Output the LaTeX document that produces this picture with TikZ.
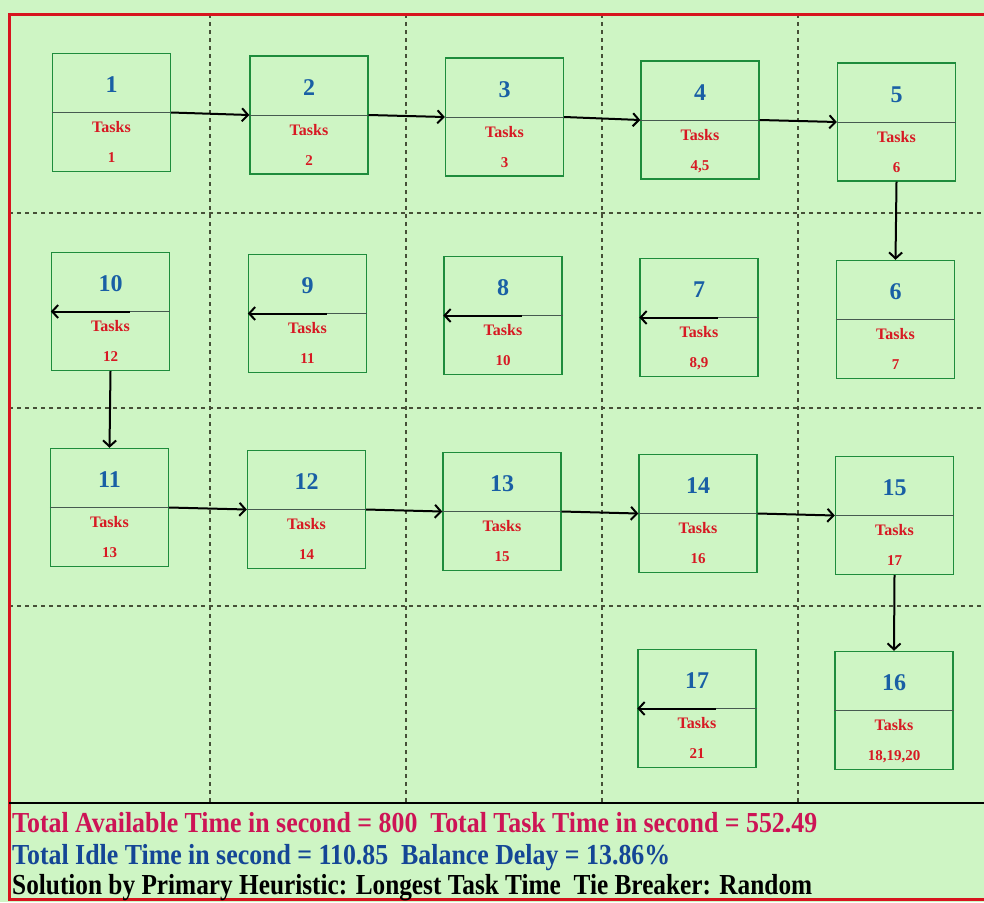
\documentclass[tikz,border=0pt]{standalone}
\usepackage{fontspec}
\setmainfont{Liberation Serif}
\usepackage{graphicx}
\usetikzlibrary{arrows.meta}
\definecolor{bg}{RGB}{206,245,196}
\definecolor{gridc}{RGB}{70,80,55}
\definecolor{boxgreen}{RGB}{30,140,60}
\definecolor{divc}{RGB}{70,90,80}
\definecolor{numblue}{RGB}{25,95,165}
\definecolor{taskred}{RGB}{215,25,35}
\definecolor{frame}{RGB}{215,20,30}
\definecolor{crimson}{RGB}{205,20,85}
\definecolor{darkblue}{RGB}{20,70,150}
\newcommand\station[5]{%
  \node[stationbox] (#1) at (#2,#3) {};
  \draw[divider] (#1.west) -- (#1.east);
  \node[numtext, anchor=base] (#1-n) at ([yshift=20pt]#1.center) {#4};
  \node[tasktext, anchor=base] (#1-t) at ([yshift=-20pt]#1.center) {Tasks};
  \node[valtext, anchor=base] (#1-v) at ([yshift=-50pt]#1.center) {#5};
}
\newcommand\backarrow[1]{%
  \coordinate (#1-s) at ([xshift=19pt]#1.center);
  \draw[flow] (#1-s) -- (#1.west);
}
\begin{document}
\begin{tikzpicture}[x=1pt,y=-1pt,
  gridline/.style={draw=gridc, line width=1.3pt, dash pattern=on 4pt off 4pt},
  stationbox/.style={draw=boxgreen, line width=1.4pt, minimum width=118pt, minimum height=118pt, inner sep=0pt},
  divider/.style={draw=divc, line width=0.8pt},
  numtext/.style={font=\fontsize{24}{28}\selectfont\bfseries, text=numblue, inner sep=0pt},
  tasktext/.style={font=\fontsize{16}{18}\selectfont\bfseries, text=taskred, inner sep=0pt},
  valtext/.style={font=\fontsize{15}{18}\selectfont\bfseries, text=taskred, inner sep=0pt},
  flow/.style={-{Straight Barb[length=6pt,width=13pt]}, line width=2pt, draw=black},
  foot/.style={font=\fontsize{29}{32}\selectfont\bfseries, inner sep=0pt, anchor=base west}
]
\useasboundingbox (0,0) rectangle (984,902);
\fill[bg] (0,0) rectangle (984,902);
% grid
\foreach \gx in {210,406,602,798} \draw[gridline] (\gx,14) -- (\gx,803);
\foreach \gy in {213,408,606} \draw[gridline] (9,\gy) -- (984,\gy);
% frame
\draw[frame, line width=3pt] (9,14) rectangle (992,899);
\draw[black, line width=2.5pt] (9,803) -- (984,803);
% stations
\station{b1}{111.5}{112.5}{1}{1}
\station{b2}{309}{115}{2}{2}
\station{b3}{504.5}{117}{3}{3}
\station{b4}{700}{120}{4}{4,5}
\station{b5}{896.5}{122}{5}{6}
\station{b10}{110.5}{311.5}{10}{12}
\station{b9}{307.5}{313.5}{9}{11}
\station{b8}{503}{315.5}{8}{10}
\station{b7}{699}{317.5}{7}{8,9}
\station{b6}{895.5}{319.5}{6}{7}
\station{b11}{109.5}{507.5}{11}{13}
\station{b12}{306.5}{509.5}{12}{14}
\station{b13}{502}{511.5}{13}{15}
\station{b14}{698}{513.5}{14}{16}
\station{b15}{894.5}{515.5}{15}{17}
\station{b17}{697}{708.5}{17}{21}
\station{b16}{894}{710.5}{16}{18,19,20}
% connectors
\draw[flow] (b1.east) -- (b2.west);
\draw[flow] (b2.east) -- (b3.west);
\draw[flow] (b3.east) -- (b4.west);
\draw[flow] (b4.east) -- (b5.west);
\draw[flow] (b5.south) -- (b6.north);
\draw[flow] (b10.south) -- (b11.north);
\draw[flow] (b11.east) -- (b12.west);
\draw[flow] (b12.east) -- (b13.west);
\draw[flow] (b13.east) -- (b14.west);
\draw[flow] (b14.east) -- (b15.west);
\draw[flow] (b15.south) -- (b16.north);
\backarrow{b10}
\backarrow{b9}
\backarrow{b8}
\backarrow{b7}
\backarrow{b17}
% footer
\node[foot, text=crimson] (f1) at (12,832) {\resizebox{805pt}{\height}{Total Available Time in second = 800\ \ Total Task Time in second = 552.49}};
\node[foot, text=darkblue] (f2) at (12,864) {\resizebox{658pt}{\height}{Total Idle Time in second = 110.85\ \ Balance Delay = 13.86\%}};
\node[foot, text=black] (f3) at (12,894) {\resizebox{800pt}{\height}{Solution by Primary Heuristic: Longest Task Time\ \ Tie Breaker: Random}};
\end{tikzpicture}
\end{document}
